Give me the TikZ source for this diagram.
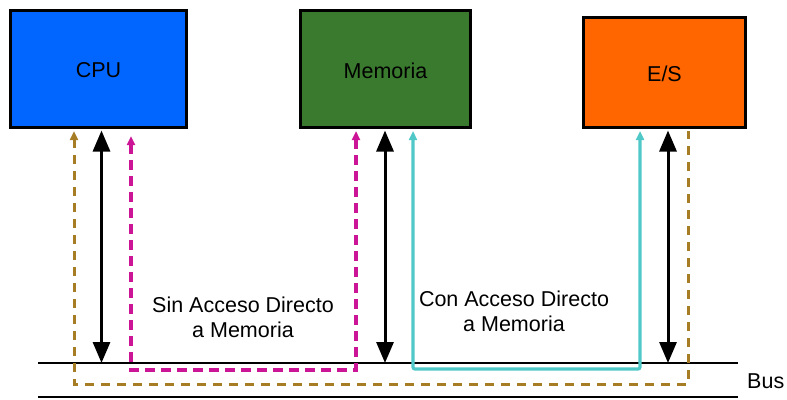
\documentclass[tikz,border=0pt]{standalone}
\usepackage{fontspec}
\setmainfont{Liberation Sans}
\usetikzlibrary{arrows.meta}
\definecolor{cpublue}{RGB}{0,102,255}
\definecolor{memgreen}{RGB}{58,122,46}
\definecolor{esorange}{RGB}{255,102,0}
\definecolor{dmabrown}{RGB}{166,124,36}
\definecolor{sinmag}{RGB}{204,20,150}
\definecolor{concyan}{RGB}{80,200,200}
\tikzset{
  smalltip/.tip={Triangle[width=8pt,length=9pt]},
  bigtip/.tip={Triangle[width=17pt,length=21pt]},
  unitbox/.style={draw=black, line width=3.5pt, inner sep=0pt},
  lbl/.style={font=\fontsize{21.5}{25}\selectfont, text=black, align=center, inner sep=0pt},
  busarrow/.style={line width=3pt, black, {bigtip}-{bigtip}},
  buspath/.style={line width=3pt, dmabrown, dash pattern=on 9pt off 7pt},
  sinpath/.style={line width=3.5pt, sinmag, dash pattern=on 10pt off 6pt},
  conpath/.style={line width=3.2pt, concyan, rounded corners=2pt},
  busline/.style={line width=2.2pt, black}
}
\begin{document}
\begin{tikzpicture}[x=1pt,y=-1pt]
\path[use as bounding box] (0,0) rectangle (787,399);
% boxes
\node[unitbox, fill=cpublue, minimum width=176pt, minimum height=117pt] (cpu) at (98.5,69) {};
\node[unitbox, fill=memgreen, minimum width=170pt, minimum height=117pt] (mem) at (385.5,69) {};
\node[unitbox, fill=esorange, minimum width=162pt, minimum height=110pt] (es) at (664.5,72.5) {};
\node[lbl] (cputxt) at ([yshift=-1.5pt]cpu.center) {CPU};
\node[lbl] (memtxt) at ([yshift=-1.5pt]mem.center) {Memoria};
\node[lbl] (estxt) at ([yshift=-1.5pt]es.center) {E/S};
% bus lines
\coordinate (busL) at (38,363);
\coordinate (busR) at (738,363);
\coordinate (botL) at (38,397);
\coordinate (botR) at (738,397);
\draw[busline] (busL) -- (busR);
\draw[busline] (botL) -- (botR);
\node[lbl, anchor=west] (bus) at (747,381) {Bus};
% black double arrows
\coordinate (cpuA) at (101.5,130.5);
\coordinate (cpuB) at (101.5,363);
\coordinate (memA) at (385,130.5);
\coordinate (memB) at (385,363);
\coordinate (esA) at (668,130.5);
\coordinate (esB) at (668,363);
\draw[busarrow] (cpuA) -- (cpuB);
\draw[busarrow] (memA) -- (memB);
\draw[busarrow] (esA) -- (esB);
% brown dashed path
\coordinate (brA) at (74,131);
\coordinate (brB) at (688,384);
\coordinate (brC) at (688,130.5);
\draw[buspath, {smalltip}-] (brA) |- (brB) -- (brC);
% magenta dashed path
\coordinate (mgA) at (131,136);
\coordinate (mgB) at (356,370);
\coordinate (mgC) at (356,131);
\draw[sinpath, {smalltip}-{smalltip}] (mgA) |- (mgB) -- (mgC);
% cyan path
\coordinate (cyA) at (413,131);
\coordinate (cyB) at (640,369);
\coordinate (cyC) at (640,131);
\draw[conpath, {smalltip}-{smalltip}] (cyA) |- (cyB) -- (cyC);
% labels
\node[lbl] (sintxt) at (243,317) {Sin Acceso Directo\\a Memoria};
\node[lbl] (contxt) at (514,311) {Con Acceso Directo\\a Memoria};
\end{tikzpicture}
\end{document}
